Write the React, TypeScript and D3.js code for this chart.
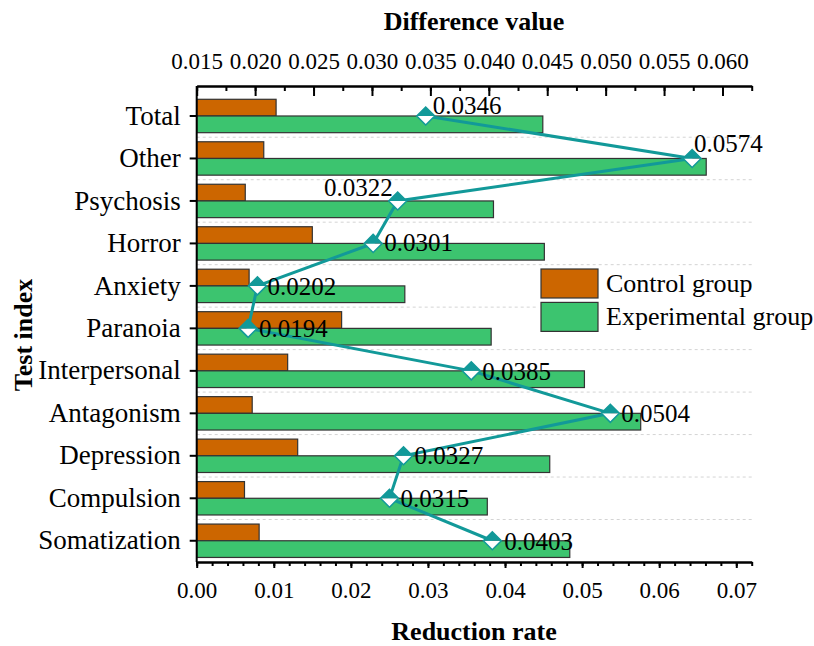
import React, { useEffect, useRef } from 'react';
import * as d3 from 'd3';

const categories = ['Total', 'Other', 'Psychosis', 'Horror', 'Anxiety', 'Paranoia',
    'Interpersonal', 'Antagonism', 'Depression', 'Compulsion', 'Somatization'];
const controlGroup = [0.0103, 0.0087, 0.0063, 0.0150, 0.0068, 0.0188, 0.0118, 0.0072, 0.0131, 0.0062, 0.0081];
const experimentalGroup = [0.0449, 0.0661, 0.0385, 0.0451, 0.0270, 0.0382, 0.0503, 0.0576, 0.0458, 0.0377, 0.0484];
const differenceValue = [0.0346, 0.0574, 0.0322, 0.0301, 0.0202, 0.0194, 0.0385, 0.0504, 0.0327, 0.0315, 0.0403];
const bottomTicks = [0, 0.01, 0.02, 0.03, 0.04, 0.05, 0.06, 0.07];
const topTicks = [0.015, 0.02, 0.025, 0.03, 0.035, 0.04, 0.045, 0.05, 0.055, 0.06];
const legendLabels = ['Control group', 'Experimental group'];

// label placement around each diamond: [dx, dy, anchor]
const labelPlace: [number, number, string][] = [
    [7, -2, 'start'], [2, -6, 'start'], [-5, -5, 'end'], [11, 8, 'start'],
    [10, 9, 'start'], [11, 9, 'start'], [11, 9, 'start'], [11, 9, 'start'],
    [11, 8, 'start'], [11, 9, 'start'], [12, 9, 'start'],
];

const W = 814, H = 646;
const left = 196.7, right = 751.7, top = 86, bottom = 562;
const serif = '"Liberation Serif", "Times New Roman", serif';
const orange = '#cc6600';
const green = '#3cc46f';
const teal = '#129999';

export default function App() {
    const ref = useRef<SVGSVGElement>(null);

    useEffect(() => {
        const svg = d3.select(ref.current);
        svg.selectAll('*').remove();

        const xBottom = d3.scaleLinear().domain([0, 0.072]).range([left, right]);
        const xTop = d3.scaleLinear().domain([0.015, 0.0625]).range([left, right]);
        const y = d3.scaleBand().domain(categories).range([94.75, bottom]).padding(0);
        const step = y.step();
        const barH = step * 0.393;
        const cy = (c: string) => (y(c) as number) + step / 2;

        // dashed grid between categories
        svg.append('g')
            .selectAll('line')
            .data(categories.slice(1))
            .enter()
            .append('line')
            .attr('x1', left)
            .attr('x2', right)
            .attr('y1', d => y(d) as number)
            .attr('y2', d => y(d) as number)
            .attr('stroke', '#d4d4d4')
            .attr('stroke-width', 1)
            .attr('stroke-dasharray', '3,3');

        // bars
        const bars = svg.append('g').attr('stroke', '#333').attr('stroke-width', 1.2);
        bars.selectAll('rect.ctrl')
            .data(categories)
            .enter()
            .append('rect')
            .attr('class', 'ctrl')
            .attr('x', xBottom(0))
            .attr('y', d => cy(d) - barH)
            .attr('width', (d, i) => xBottom(controlGroup[i]) - xBottom(0))
            .attr('height', barH)
            .attr('fill', orange);
        bars.selectAll('rect.exp')
            .data(categories)
            .enter()
            .append('rect')
            .attr('class', 'exp')
            .attr('x', xBottom(0))
            .attr('y', d => cy(d))
            .attr('width', (d, i) => xBottom(experimentalGroup[i]) - xBottom(0))
            .attr('height', barH)
            .attr('fill', green);

        // axes
        const styleAxis = (g: any, size: number) => {
            g.selectAll('path.domain').attr('stroke', '#000').attr('stroke-width', 2);
            g.selectAll('line').attr('stroke', '#000').attr('stroke-width', 2);
            g.selectAll('text').attr('font-family', serif).attr('font-size', size).attr('fill', '#000');
        };

        const bMinor = svg.append('g').attr('transform', `translate(0,${bottom})`)
            .call(d3.axisBottom(xBottom).tickValues(d3.range(0, 0.0721, 0.002)).tickSize(4).tickSizeOuter(0).tickFormat(() => ''));
        styleAxis(bMinor, 23);
        const bMajor = svg.append('g').attr('transform', `translate(0,${bottom})`)
            .call(d3.axisBottom(xBottom).tickValues(bottomTicks).tickSize(6).tickSizeOuter(0).tickPadding(14).tickFormat(d3.format('.2f')));
        styleAxis(bMajor, 23);

        const tMinor = svg.append('g').attr('transform', `translate(0,${top})`)
            .call(d3.axisTop(xTop).tickValues(d3.range(0.015, 0.06251, 0.0025)).tickSize(-5).tickSizeOuter(0).tickFormat(() => ''));
        styleAxis(tMinor, 23);
        const tMajor = svg.append('g').attr('transform', `translate(0,${top})`)
            .call(d3.axisTop(xTop).tickValues(topTicks).tickSize(-10).tickSizeOuter(0).tickPadding(17).tickFormat(d3.format('.3f')));
        styleAxis(tMajor, 23);

        const yAxis = svg.append('g').attr('transform', `translate(${left},0)`)
            .call(d3.axisLeft(y).tickSize(7).tickSizeOuter(0).tickPadding(9));
        styleAxis(yAxis, 27);
        yAxis.select('path.domain').attr('d', `M0,${top}V${bottom}`);

        // difference line
        const line = d3.line<number>()
            .x(d => xTop(d))
            .y((d, i) => cy(categories[i]));
        svg.append('path')
            .datum(differenceValue)
            .attr('d', line)
            .attr('fill', 'none')
            .attr('stroke', teal)
            .attr('stroke-width', 3);

        const r = 9;
        const marks = svg.append('g')
            .selectAll('g')
            .data(differenceValue)
            .enter()
            .append('g')
            .attr('transform', (d, i) => `translate(${xTop(d)},${cy(categories[i])})`);
        marks.append('path')
            .attr('d', `M${-r},0L0,${r}L${r},0Z`)
            .attr('fill', '#fff');
        marks.append('path')
            .attr('d', `M${-r},0L0,${-r}L${r},0Z`)
            .attr('fill', teal);
        marks.append('path')
            .attr('d', `M${-r},0L0,${-r}L${r},0L0,${r}Z`)
            .attr('fill', 'none')
            .attr('stroke', teal)
            .attr('stroke-width', 1.5);

        svg.append('g')
            .selectAll('text')
            .data(differenceValue)
            .enter()
            .append('text')
            .attr('x', (d, i) => xTop(d) + labelPlace[i][0])
            .attr('y', (d, i) => cy(categories[i]) + labelPlace[i][1])
            .attr('text-anchor', (d, i) => labelPlace[i][2])
            .attr('font-family', serif)
            .attr('font-size', 25)
            .text(d => d3.format('.4f')(d));

        // legend
        const legend = svg.append('g').attr('transform', 'translate(541,269)');
        legend.append('rect')
            .attr('x', -4).attr('y', -2).attr('width', 280).attr('height', 66)
            .attr('fill', '#fff');
        legendLabels.forEach((lab, i) => {
            legend.append('rect')
                .attr('x', 0)
                .attr('y', i * 33.4)
                .attr('width', 57)
                .attr('height', 29)
                .attr('fill', i === 0 ? orange : green)
                .attr('stroke', '#333')
                .attr('stroke-width', 1.2);
            legend.append('text')
                .attr('x', 65)
                .attr('y', 23 + i * 33)
                .attr('font-family', serif)
                .attr('font-size', 26)
                .text(lab);
        });

        // titles
        const title = (txt: string, x: number, yy: number, rot: number) => {
            svg.append('text')
                .attr('transform', `translate(${x},${yy}) rotate(${rot})`)
                .attr('text-anchor', 'middle')
                .attr('font-family', serif)
                .attr('font-size', 26)
                .attr('font-weight', 'bold')
                .text(txt);
        };
        title('Difference value', 474, 30, 0);
        title('Reduction rate', 474, 640, 0);
        title('Test index', 32, 335, -90);
    }, []);

    return (
        <svg ref={ref} width={W} height={H}
            style={{ position: 'absolute', left: 0, top: 0, background: '#fff' }}>
        </svg>
    );
}
